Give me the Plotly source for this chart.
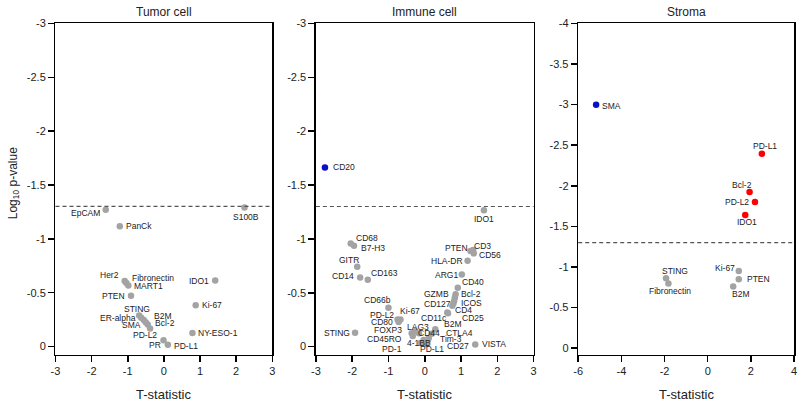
import plotly.graph_objects as go

# ---------------- DATA ----------------
THRESHOLD = -1.30103  # log10(0.05)

tumor_markers = ["EpCAM", "PanCk", "S100B", "Her2", "Fibronectin", "MART1", "IDO1", "PTEN",
                 "Ki-67", "STING", "ER-alpha", "B2M", "SMA", "Bcl-2", "PD-L2", "NY-ESO-1", "PR", "PD-L1"]
tumor_t = [-1.61, -1.22, 2.23, -1.085, -1.038, -0.984, 1.42, -0.91,
           0.88, -0.683, -0.628, -0.557, -0.503, -0.448, -0.383, 0.79, -0.01, 0.11]
tumor_logp = [-1.27, -1.118, -1.29, -0.609, -0.591, -0.566, -0.612, -0.472,
              -0.384, -0.289, -0.268, -0.247, -0.226, -0.205, -0.168, -0.125, -0.058, -0.016]

immune_markers = ["CD20", "IDO1", "CD68", "B7-H3", "GITR", "CD14", "CD163", "PTEN", "CD3", "CD56",
                  "HLA-DR", "ARG1", "CD40", "GZMB", "Bcl-2", "CD127", "ICOS", "CD4", "CD11c", "CD25",
                  "CD66b", "PD-L2", "Ki-67", "CD80", "STING", "FOXP3", "CD45RO", "LAG3", "CD44",
                  "PD-1", "4-1BB", "PD-L1", "Tim-3", "CTLA4", "B2M", "CD27", "VISTA"]
immune_t = [-2.75, 1.63, -2.04, -1.95, -1.86, -1.78, -1.57, 1.26, 1.33, 1.35,
            1.18, 1.02, 0.91, 0.85, 0.83, 0.81, 0.79, 0.76, 0.62, 0.64,
            -1.00, -0.75, -0.67, -0.72, -1.92, -0.36, -0.33, -0.26, -0.16,
            -0.11, -0.03, 0.03, 0.11, 0.19, 0.29, 0.08, 1.39]
immune_logp = [-1.663, -1.267, -0.957, -0.936, -0.742, -0.642, -0.621, -0.888, -0.897, -0.866,
               -0.797, -0.669, -0.547, -0.487, -0.456, -0.426, -0.40, -0.38, -0.316, -0.31,
               -0.362, -0.252, -0.252, -0.228, -0.128, -0.125, -0.098, -0.143, -0.125,
               -0.034, -0.061, -0.025, -0.08, -0.12, -0.161, -0.052, -0.02]

stroma_markers = ["SMA", "PD-L1", "Bcl-2", "PD-L2", "IDO1", "STING", "Fibronectin", "Ki-67", "PTEN", "B2M"]
stroma_t = [-5.17, 2.51, 1.94, 2.19, 1.74, -1.93, -1.82, 1.44, 1.44, 1.18]
stroma_logp = [-3.00, -2.396, -1.924, -1.802, -1.641, -0.861, -0.796, -0.95, -0.848, -0.76]

panel_titles = ["Tumor cell", "Immune cell", "Stroma"]
x_title = "T-statistic"
y_title = "Log<sub>10</sub> p-value"

x_ticks_small = [-3, -2, -1, 0, 1, 2, 3]
x_ticks_small_text = ["-3", "-2", "-1", "0", "1", "2", "3"]
x_ticks_stroma = [-6, -4, -2, 0, 2, 4]
x_ticks_stroma_text = ["-6", "-4", "-2", "0", "2", "4"]
y_ticks3 = [-3, -2.5, -2, -1.5, -1, -0.5, 0]
y_ticks3_text = ["-3", "-2.5", "-2", "-1.5", "-1", "-0.5", "0"]
y_ticks4 = [-4, -3.5, -3, -2.5, -2, -1.5, -1, -0.5, 0]
y_ticks4_text = ["-4", "-3.5", "-3", "-2.5", "-2", "-1.5", "-1", "-0.5", "0"]

# ---------------- STYLE ----------------
FONT = "Liberation Sans, Arial, sans-serif"
GRAY = "#a3a3a3"
BLUE = "#0a0fc8"
RED = "#ff0000"

# label placement: (anchor, dx px, dy px (down positive))
tumor_lab = {
    "EpCAM": ("right", -4, 3), "PanCk": ("left", 4, 0), "S100B": ("center", 2, 9),
    "Her2": ("right", -4, -6), "Fibronectin": ("left", 4, -5), "MART1": ("left", 4, 0),
    "IDO1": ("right", -4, 0), "PTEN": ("right", -4, 0), "Ki-67": ("left", 4, 0),
    "STING": ("center", -2, -6), "ER-alpha": ("right", -3, 0), "B2M": ("left", 8, -4),
    "SMA": ("right", -3, 3), "Bcl-2": ("left", 5, -1), "PD-L2": ("center", -5, 7),
    "NY-ESO-1": ("left", 4, 0), "PR": ("right", -1, 5), "PD-L1": ("left", 4, 1),
}
immune_lab = {
    "CD20": ("left", 6, 0), "IDO1": ("center", 0, 9), "CD68": ("left", 3, -6),
    "B7-H3": ("left", 5, 2), "GITR": ("center", -8, -7), "CD14": ("right", -4, -1),
    "CD163": ("left", 1, -7), "PTEN": ("right", -1, -3), "CD3": ("left", -1, -4),
    "CD56": ("left", 3, 2), "HLA-DR": ("right", -3, 0), "ARG1": ("right", -2, 0),
    "CD40": ("left", 2, -6), "GZMB": ("right", -5, 0), "Bcl-2": ("left", 4, -4),
    "CD127": ("right", -1, 3), "ICOS": ("left", 6, -1), "CD4": ("left", 1, 4),
    "CD11c": ("right", 2, 5), "CD25": ("left", 12, 5), "CD66b": ("center", -11, -8),
    "PD-L2": ("right", -2, -4), "Ki-67": ("left", -2, -8), "CD80": ("right", -4, 0),
    "STING": ("right", -3, 0), "FOXP3": ("right", -8, -3), "CD45RO": ("right", -9, 3),
    "LAG3": ("center", 3, -4), "CD44": ("center", 10, 0), "PD-1": ("right", -17, 6),
    "4-1BB": ("center", -5, 3), "PD-L1": ("center", 6, 5), "Tim-3": ("left", 9, 1),
    "CTLA4": ("left", 12, -1), "B2M": ("left", 7, -5), "CD27": ("left", 17, 5),
    "VISTA": ("left", 5, 0),
}
stroma_lab = {
    "SMA": ("left", 4, 1), "PD-L1": ("center", 3, -8), "Bcl-2": ("center", -8, -7),
    "PD-L2": ("right", -4, 0), "IDO1": ("center", 2, 7), "STING": ("center", 9, -7),
    "Fibronectin": ("center", 2, 7), "Ki-67": ("right", -2, -3), "PTEN": ("left", 6, 0),
    "B2M": ("center", 7, 7),
}

W, H = 800, 402
x_domains = [(51, 270), (314, 534), (579, 797)]  # px
y_top, y_bot = 17.7, 354                          # px


def color_of(t, p):
    if p < THRESHOLD:
        return BLUE if t < 0 else RED
    return GRAY


def px(x):
    return x / W


def py(y):
    return 1 - y / H


panels = [
    (tumor_markers, tumor_t, tumor_logp, tumor_lab, [-3, 3], [0.076, -3],
     x_ticks_small, x_ticks_small_text, y_ticks3, y_ticks3_text),
    (immune_markers, immune_t, immune_logp, immune_lab, [-3, 3], [0.075, -3],
     x_ticks_small, x_ticks_small_text, y_ticks3, y_ticks3_text),
    (stroma_markers, stroma_t, stroma_logp, stroma_lab, [-6, 4], [0.08, -4],
     x_ticks_stroma, x_ticks_stroma_text, y_ticks4, y_ticks4_text),
]

fig = go.Figure()
annotations = []
shapes = []
layout = {}

for i, (mk, tv, pv, lab, xr, yr, xtv, xtt, ytv, ytt) in enumerate(panels):
    n = "" if i == 0 else str(i + 1)
    xa, ya = "x" + n, "y" + n
    fig.add_trace(go.Scatter(
        x=tv, y=pv, mode="markers", xaxis=xa, yaxis=ya, showlegend=False,
        marker=dict(size=6.5, color=[color_of(t, p) for t, p in zip(tv, pv)], line=dict(width=0)),
        hoverinfo="text", text=mk,
    ))
    common = dict(showline=True, linecolor="black", linewidth=1.5, mirror=True,
                  ticks="outside", ticklen=6, tickwidth=1.5, tickcolor="black",
                  showgrid=False, zeroline=False,
                  tickfont=dict(family=FONT, size=11, color="#222"))
    x0, x1 = x_domains[i]
    layout["xaxis" + n] = dict(common, domain=[px(x0), px(x1)], range=xr, anchor=ya,
                               tickvals=xtv, ticktext=xtt)
    layout["yaxis" + n] = dict(common, domain=[py(y_bot), py(y_top)], range=yr, anchor=xa,
                               tickvals=ytv, ticktext=ytt)
    shapes.append(dict(type="line", xref=xa + " domain", yref=ya, x0=0, x1=1,
                       y0=THRESHOLD, y1=THRESHOLD,
                       line=dict(color="#555", width=1.2, dash="4px,3px")))
    for m, t, p in zip(mk, tv, pv):
        anc, dx, dy = lab[m]
        annotations.append(dict(x=t, y=p, xref=xa, yref=ya, text=m, showarrow=False,
                                xanchor=anc, yanchor="middle", xshift=dx, yshift=-dy,
                                font=dict(family=FONT, size=8.5, color="#222")))
    cx = px((x0 + x1) / 2)
    annotations.append(dict(x=cx, y=py(6), xref="paper", yref="paper", text=panel_titles[i],
                            showarrow=False, xanchor="center", yanchor="middle",
                            font=dict(family=FONT, size=12, color="#222")))
    annotations.append(dict(x=cx, y=py(394), xref="paper", yref="paper", text=x_title,
                            showarrow=False, xanchor="center", yanchor="middle",
                            font=dict(family=FONT, size=13, color="#222")))

annotations.append(dict(x=px(9), y=py(180), xref="paper", yref="paper", text=y_title,
                        showarrow=False, xanchor="center", yanchor="middle", textangle=-90,
                        font=dict(family=FONT, size=12, color="#222")))

fig.update_layout(
    width=W, height=H, margin=dict(l=0, r=0, t=0, b=0),
    paper_bgcolor="white", plot_bgcolor="white",
    annotations=annotations, shapes=shapes, **layout,
)

# remove the browser's default 8px body margin so the figure fills the window exactly
fig.write_html("out.html",
               config={"displayModeBar": False, "staticPlot": True},
               post_script="document.body.style.margin='0';document.body.style.overflow='hidden';")
